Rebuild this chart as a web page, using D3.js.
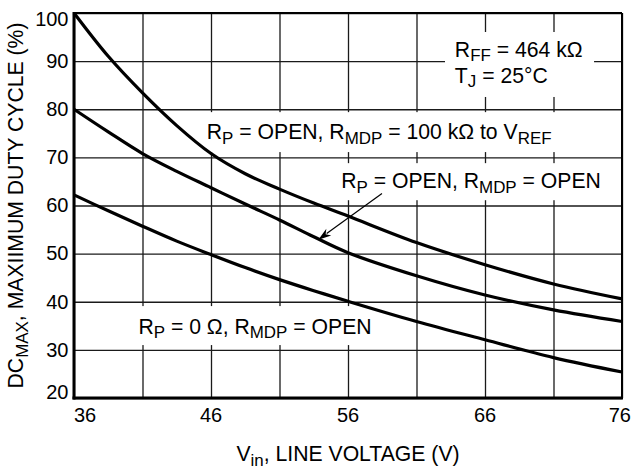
<!DOCTYPE html>
<html>
<head>
<meta charset="utf-8">
<script src="https://cdn.jsdelivr.net/npm/d3@7"></script>
<style>
  html, body { margin: 0; padding: 0; background: #fff; }
  svg { display: block; font-family: "Liberation Sans", Arial, Helvetica, sans-serif; }
</style>
</head>
<body>
<svg id="chart" width="632" height="468"></svg>
<script>
// Line voltage sample points (V)
const vin = [36, 38.5, 41, 43.5, 46, 48.5, 51, 53.5, 56, 61, 66, 71, 76];
// Maximum duty cycle (%) for each configuration
const dcMdp100k = [100, 91.0, 83.4, 76.6, 70.8, 66.6, 63.4, 60.5, 57.8, 52.3, 47.7, 43.7, 40.6];
const dcMdpOpen = [80, 75.3, 70.8, 67.1, 63.7, 60.3, 57.0, 53.5, 50.2, 45.4, 41.4, 38.3, 35.9];
const dcRp0     = [62.2, 58.9, 55.7, 52.6, 49.8, 47.1, 44.6, 42.3, 40.1, 35.9, 32.1, 28.4, 25.4];

const xGrid = [36, 41, 46, 51, 56, 61, 66, 71, 76];
const xTickLabels = [36, 46, 56, 66, 76];
const yTickLabels = [20, 30, 40, 50, 60, 70, 80, 90, 100];

const svg = d3.select("#chart");
const pL = 74, pR = 622, pT = 13, pB = 398;
const x = d3.scaleLinear().domain([36, 76]).range([pL, pR]);
const y = d3.scaleLinear().domain([20, 100]).range([pB, pT]);

const FONT = 21.2, TICKFONT = 20;

// grid
const grid = svg.append("g");
grid.append("g")
  .attr("transform", `translate(0,${pB})`)
  .call(d3.axisBottom(x).tickValues(xGrid).tickSize(-(pB - pT)).tickFormat(""))
  .call(g => g.select(".domain").remove())
  .call(g => g.selectAll("line").attr("stroke", "#1a1a1a").attr("stroke-width", 1.3));
grid.append("g")
  .attr("transform", `translate(${pL},0)`)
  .call(d3.axisLeft(y).tickValues(yTickLabels).tickSize(-(pR - pL)).tickFormat(""))
  .call(g => g.select(".domain").remove())
  .call(g => g.selectAll("line").attr("stroke", "#1a1a1a").attr("stroke-width", 1.3));

// white panels behind the annotations (in data units)
const panels = [
  [63.08, 73.96, 96.05, 82.55],
  [45.2, 71.6, 79.4, 71.1],
  [55.05, 74.9, 68.8, 61.1],
  [40.1, 58.2, 39.1, 31.0]
];
svg.append("g").selectAll("rect").data(panels).join("rect")
  .attr("x", d => x(d[0])).attr("y", d => y(d[2]))
  .attr("width", d => x(d[1]) - x(d[0])).attr("height", d => y(d[3]) - y(d[2]))
  .attr("fill", "#fff");

// frame: heavier left/bottom axes, lighter top/right
const frame = svg.append("g").attr("stroke", "#000").attr("fill", "none");
frame.append("line").attr("x1", pL).attr("x2", pR).attr("y1", pT).attr("y2", pT).attr("stroke-width", 2);
frame.append("line").attr("x1", pR).attr("x2", pR).attr("y1", pT).attr("y2", pB).attr("stroke-width", 2);
frame.append("line").attr("x1", pL).attr("x2", pL).attr("y1", pT - 1).attr("y2", pB + 1.5).attr("stroke-width", 3);
frame.append("line").attr("x1", pL - 1.5).attr("x2", pR + 1).attr("y1", pB).attr("y2", pB).attr("stroke-width", 3);

// curves
const line = d3.line().x(d => x(d[0])).y(d => y(d[1])).curve(d3.curveCatmullRom.alpha(0.5));
[dcMdp100k, dcMdpOpen, dcRp0].forEach(series => {
  svg.append("path")
    .datum(vin.map((v, i) => [v, series[i]]))
    .attr("d", line)
    .attr("fill", "none")
    .attr("stroke", "#000")
    .attr("stroke-width", 3.2)
    .attr("stroke-linejoin", "round");
});

// text with subscripts: parts = [[string, isSub], ...]
function rich(sel, parts, size) {
  let down = false;
  parts.forEach(([s, sub]) => {
    const t = sel.append("tspan").text(s);
    if (sub) {
      t.attr("font-size", size * 0.8);
      if (!down) { t.attr("dy", 4.5); down = true; }
    } else {
      t.attr("font-size", size);
      if (down) { t.attr("dy", -4.5); down = false; }
    }
  });
  return sel;
}

// tick labels
const xl = svg.append("g").attr("font-size", TICKFONT).attr("fill", "#000");
xl.selectAll("text").data(xTickLabels).join("text")
  .attr("x", d => d === 76 ? 631 : x(d))
  .attr("y", 421.5)
  .attr("text-anchor", d => d === 36 ? "start" : d === 76 ? "end" : "middle")
  .text(d => d);
const yl = svg.append("g").attr("font-size", TICKFONT).attr("fill", "#000");
yl.selectAll("text").data(yTickLabels).join("text")
  .attr("x", pL - 5.5)
  .attr("y", d => d === 100 ? y(d) + 12.5 : d === 20 ? y(d) + 0.5 : y(d) + 6.8)
  .attr("text-anchor", "end")
  .text(d => d);

// axis titles
rich(svg.append("text").attr("x", (pL + pR) / 2).attr("y", 461).attr("text-anchor", "middle"),
  [["V", false], ["in", true], [", LINE VOLTAGE (V)", false]], FONT);
rich(svg.append("text")
    .attr("transform", `translate(23,${(pT + pB) / 2}) rotate(-90)`)
    .attr("text-anchor", "middle"),
  [["DC", false], ["MAX", true], [", MAXIIMUM DUTY CYCLE (%)", false]], FONT);

// annotations (anchors in data units)
const notes = [
  { at: [63.8, 90.9], parts: [["R", false], ["FF", true], [" = 464 kΩ", false]] },
  { at: [63.8, 85.5], parts: [["T", false], ["J", true], [" = 25°C", false]] },
  { at: [45.69, 73.8], parts: [["R", false], ["P", true], [" = OPEN, R", false], ["MDP", true], [" = 100 kΩ to V", false], ["REF", true]] },
  { at: [55.5, 63.6], parts: [["R", false], ["P", true], [" = OPEN, R", false], ["MDP", true], [" = OPEN", false]] },
  { at: [40.7, 33.3], parts: [["R", false], ["P", true], [" = 0 Ω, R", false], ["MDP", true], [" = OPEN", false]] }
];
notes.forEach(n => {
  rich(svg.append("text").attr("x", x(n.at[0])).attr("y", y(n.at[1])), n.parts, FONT);
});

// leader arrow to the R_P = OPEN, R_MDP = OPEN curve
const tail = [58.48, 62.5], tip = [53.83, 52.9];
const ax1 = x(tail[0]), ay1 = y(tail[1]), ax2 = x(tip[0]), ay2 = y(tip[1]);
const ang = Math.atan2(ay2 - ay1, ax2 - ax1);
const headLen = 13, headW = 4.2;
svg.append("line")
  .attr("x1", ax1).attr("y1", ay1)
  .attr("x2", ax2 - Math.cos(ang) * headLen * 0.8).attr("y2", ay2 - Math.sin(ang) * headLen * 0.8)
  .attr("stroke", "#000").attr("stroke-width", 1.2);
const bx = ax2 - Math.cos(ang) * headLen, by = ay2 - Math.sin(ang) * headLen;
const nx = -Math.sin(ang), ny = Math.cos(ang);
svg.append("path")
  .attr("d", `M${ax2},${ay2}L${bx + nx * headW},${by + ny * headW}L${ax2 - Math.cos(ang) * headLen * 0.7},${ay2 - Math.sin(ang) * headLen * 0.7}L${bx - nx * headW},${by - ny * headW}Z`)
  .attr("fill", "#000");
</script>
</body>
</html>
